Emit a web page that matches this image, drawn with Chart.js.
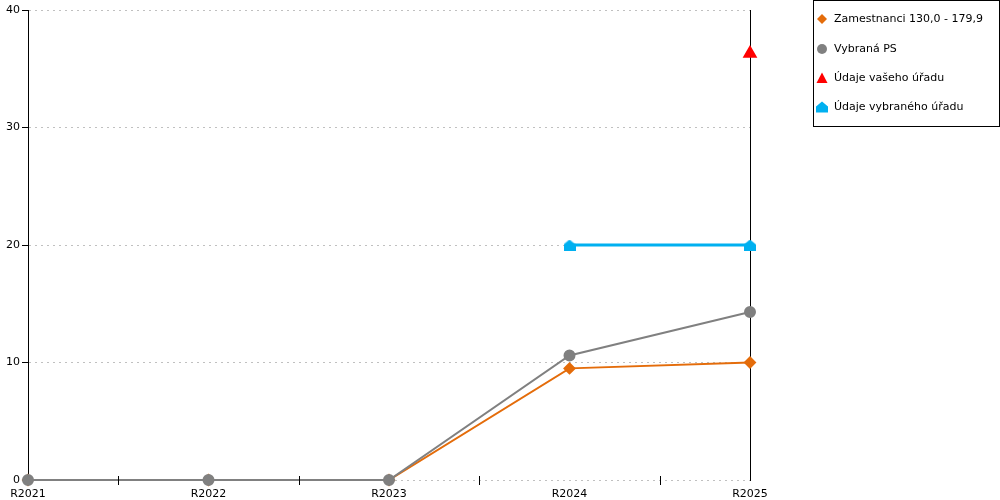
<!DOCTYPE html>
<html><head><meta charset="utf-8">
<script src="https://cdn.jsdelivr.net/npm/chart.js@4/dist/chart.umd.min.js"></script>
<style>
html,body{margin:0;padding:0;background:#fff;}
</style></head>
<body>
<canvas id="c" width="1000" height="500"></canvas>
<script>
const categories = ["R2021","R2022","R2023","R2024","R2025"];
const seriesNames = ["Zamestnanci 130,0 - 179,9","Vybraná PS","Údaje vašeho úřadu","Údaje vybraného úřadu"];
const zamestnanci = [0,0,0,9.5,10];
const vybranaPS = [0,0,0,10.6,14.3];
const vasehoUradu = [null,null,null,null,36.3];
const vybranehoUradu = [null,null,null,20,20];
const yTicks = [0,10,20,30,40];

const colors = ["#E46C0A","#808080","#FF0000","#00B0F0"];
const FONT = '"DejaVu Sans", Verdana, sans-serif';

function housePath(ctx,cx,cy){
  ctx.beginPath();
  ctx.moveTo(cx,cy-5.5); ctx.lineTo(cx+6,cy-0.5); ctx.lineTo(cx+6,cy+5.5); ctx.lineTo(cx-6,cy+5.5); ctx.lineTo(cx-6,cy-0.5); ctx.closePath();
}
function houseCanvas(color){
  const c=document.createElement('canvas'); c.width=12; c.height=11;
  const x=c.getContext('2d'); x.fillStyle=color; housePath(x,6,5.5); x.fill();
  return c;
}
const house = houseCanvas(colors[3]);

const xTickPlugin = {
  id:'xticks',
  afterDraw(chart){
    const xs=chart.scales.x, ctx=chart.ctx, y=chart.chartArea.bottom;
    ctx.save(); ctx.strokeStyle='#000'; ctx.lineWidth=1;
    for(let i=0;i<categories.length-1;i++){
      const px=Math.round(xs.getPixelForValue(i+0.5))+0.5;
      ctx.beginPath(); ctx.moveTo(px,y-4); ctx.lineTo(px,y+5); ctx.stroke();
    }
    ctx.restore();
  }
};

const legendPlugin = {
  id:'boxLegend',
  afterDraw(chart){
    const ctx=chart.ctx;
    ctx.save();
    ctx.fillStyle='#fff'; ctx.fillRect(813,0,187,127);
    ctx.strokeStyle='#000'; ctx.lineWidth=1; ctx.strokeRect(813.5,0.5,186,126);
    const ys=[19,49,78,107], mx=822;
    seriesNames.forEach((n,i)=>{
      const y=ys[i];
      ctx.fillStyle=colors[i];
      ctx.beginPath();
      if(i===0){ctx.moveTo(mx,y-5);ctx.lineTo(mx+5,y);ctx.lineTo(mx,y+5);ctx.lineTo(mx-5,y);ctx.closePath();}
      else if(i===1){ctx.arc(mx,y,5,0,Math.PI*2);}
      else if(i===2){ctx.moveTo(mx,y-5.5);ctx.lineTo(mx+5.5,y+5);ctx.lineTo(mx-5.5,y+5);ctx.closePath();}
      else {housePath(ctx,mx,y);}
      ctx.fill();
      ctx.fillStyle='#000'; ctx.font='11px '+FONT; ctx.textBaseline='middle'; ctx.textAlign='left';
      ctx.fillText(n,834,y);
    });
    ctx.restore();
  }
};

Chart.defaults.font.family = FONT;
Chart.defaults.font.size = 11;
Chart.defaults.color = '#000';

new Chart(document.getElementById('c'),{
  type:'line',
  data:{
    labels:categories,
    datasets:[
      {label:seriesNames[0],data:zamestnanci,borderColor:colors[0],backgroundColor:colors[0],borderWidth:2,pointStyle:'rectRot',pointRadius:5,pointHoverRadius:5,order:3},
      {label:seriesNames[1],data:vybranaPS,borderColor:colors[1],backgroundColor:colors[1],borderWidth:2,pointStyle:'circle',pointRadius:5,pointHoverRadius:5,order:2},
      {label:seriesNames[2],data:vasehoUradu,borderColor:colors[2],backgroundColor:colors[2],borderWidth:2,pointStyle:'triangle',pointRadius:6.5,pointHoverRadius:6.5,order:1},
      {label:seriesNames[3],data:vybranehoUradu,borderColor:colors[3],backgroundColor:colors[3],borderWidth:3,pointStyle:house,pointRadius:6,order:0}
    ]
  },
  options:{
    responsive:false,animation:false,devicePixelRatio:1,
    clip:false,
    layout:{padding:{top:10,right:250,left:0,bottom:0}},
    plugins:{legend:{display:false},tooltip:{enabled:false}},
    scales:{
      x:{
        offset:false,
        grid:{display:false,drawTicks:false},
        border:{display:false},
        ticks:{padding:8,maxRotation:0,autoSkip:false,font:{size:11}},
        afterFit(s){s.height=20;}
      },
      y:{
        min:0,max:40,
        afterBuildTicks(s){s.ticks=yTicks.map(v=>({value:v}));},
        grid:{color:'#C0C0C0',tickColor:'#000',tickLength:6,lineWidth:1},
        border:{display:true,color:'#000',width:1,dash:[2,4]},
        ticks:{padding:2,font:{size:11}},
        afterFit(s){s.width=28;}
      },
      y2:{
        position:'right',min:0,max:40,
        grid:{display:false},
        ticks:{display:false},
        border:{display:true,color:'#000',width:1},
        afterFit(s){s.width=0;}
      }
    }
  },
  plugins:[xTickPlugin,legendPlugin]
});
</script>
</body></html>
